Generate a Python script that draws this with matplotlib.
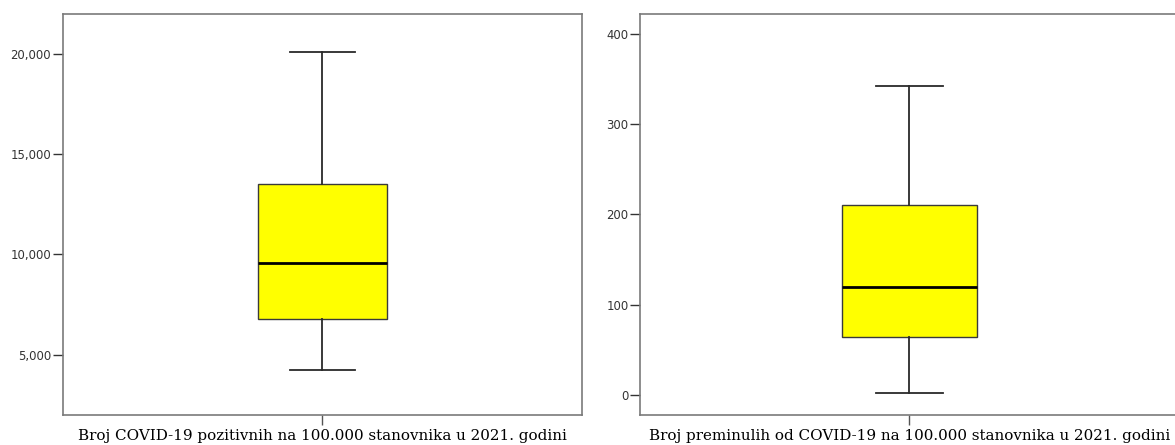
import matplotlib.pyplot as plt

# box statistics (whisker low, q1, median, q3, whisker high)
labels = ['Broj COVID-19 pozitivnih na 100.000 stanovnika u 2021. godini',
          'Broj preminulih od COVID-19 na 100.000 stanovnika u 2021. godini']
whislo = [4240, 1.8]
q1 = [6760, 64.5]
med = [9550, 119.5]
q3 = [13500, 210.6]
whishi = [20085, 342]
ylims = [(1994, 21980), (-22.1, 421.8)]
yticks = [[5000, 10000, 15000, 20000], [0, 100, 200, 300, 400]]

fig = plt.figure(figsize=(11.75, 4.45), dpi=100)
ax1 = fig.add_axes([63 / 1175, 30 / 445, 518.7 / 1175, 401 / 445])
ax2 = fig.add_axes([640.3 / 1175, 30 / 445, 538 / 1175, 401 / 445])

for i, ax in enumerate([ax1, ax2]):
    stats = [{'whislo': whislo[i], 'q1': q1[i], 'med': med[i], 'q3': q3[i],
              'whishi': whishi[i], 'fliers': []}]
    ax.bxp(stats, positions=[1], widths=0.5, patch_artist=True, capwidths=0.25,
           boxprops=dict(facecolor='#ffff00', edgecolor='#3a3a3a', linewidth=1.0),
           medianprops=dict(color='black', linewidth=2.0),
           whiskerprops=dict(color='#2a2a2a', linewidth=1.3),
           capprops=dict(color='#2a2a2a', linewidth=1.3))
    ax.set_xlim(0, 2)
    ax.set_ylim(*ylims[i])
    ax.set_yticks(yticks[i])
    ax.set_yticklabels([f'{v:,}' for v in yticks[i]], fontsize=8.4, color='#333333',
                       family='DejaVu Sans')
    ax.set_xticks([1])
    ax.set_xticklabels([labels[i]], fontsize=10.9, family='DejaVu Serif', color='black')
    ax.tick_params(axis='y', length=7.5, width=1.0, color='#333333', pad=1)
    ax.tick_params(axis='x', length=7.5, width=1.0, color='#555555', pad=2.5)
    for s in ax.spines.values():
        s.set_color('#7a7a7a')
        s.set_linewidth(1.2)

fig.savefig('out.png', dpi=100)
